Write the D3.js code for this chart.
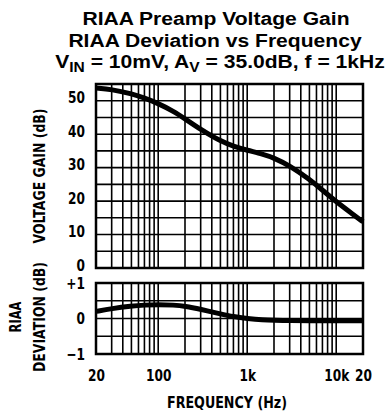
<!DOCTYPE html>
<html lang="en">
<head>
<meta charset="UTF-8">
<title>RIAA Preamp</title>
<style>
  body { margin: 0; background: #fff; }
  text { fill: #000; }
  .tick text, .lab { font-family: "DejaVu Sans", sans-serif; font-weight: bold; }
  .title { font-family: "Liberation Sans", Arial, sans-serif; font-weight: bold; font-size: 19px; }
</style>
</head>
<body>
<script src="https://cdn.jsdelivr.net/npm/d3@7"></script>
<script>
// data
const freq = [20, 30, 50, 70, 100, 150, 200, 300, 500, 700, 1000, 1500, 2000, 3000, 5000, 7000, 10000, 15000, 20000]
const gain = [53.8, 53.4, 52.1, 50.8, 49.2, 46.8, 44.6, 41.4, 37.9, 36.4, 35.2, 34.0, 32.9, 30.6, 26.5, 23.3, 19.8, 16.3, 13.8]
const devFreq = [20, 30, 50, 70, 100, 150, 200, 300, 500, 700, 1000, 1500, 2000, 3000, 5000, 10000, 20000]
const deviation = [0.2, 0.28, 0.35, 0.38, 0.39, 0.38, 0.35, 0.26, 0.13, 0.05, 0.0, -0.04, -0.05, -0.06, -0.06, -0.06, -0.06]
const xTicks = [20, 100, 1000, 10000, 20000]
const xTickLabels = ["20", "100", "1k", "10k", "20"]
const gainTicks = [0, 10, 20, 30, 40, 50]
const devTicks = [-1, 0, 1]
const devTickLabels = ["\u22121", "0", "+1"]

const width = 386, height = 414
const svg = d3.select("body").append("svg")
  .attr("width", width)
  .attr("height", height)

const x = d3.scaleLog().domain([20, 20000]).range([96, 363])
const yTop = d3.scaleLinear().domain([0, 55]).range([268, 84])
const yBot = d3.scaleLinear().domain([-1, 1]).range([354, 283])

// squeeze text horizontally (no condensed font installed)
function narrow(sel, k) {
  sel.each(function() {
    const w = this.getComputedTextLength()
    d3.select(this).attr("textLength", w * k).attr("lengthAdjust", "spacingAndGlyphs")
  })
}

// minor log grid positions
const gridX = []
for (let d = 10; d <= 10000; d *= 10) {
  for (let m = 1; m <= 9; m++) {
    const v = d * m
    if (v > 20 && v < 20000) gridX.push(v)
  }
}

function panel(y, hGrid) {
  const g = svg.append("g")
  g.selectAll(".vg").data(gridX).enter().append("line")
    .attr("x1", d => x(d)).attr("x2", d => x(d))
    .attr("y1", y.range()[1]).attr("y2", y.range()[0])
    .attr("stroke", "#000").attr("stroke-width", 1.6)
  g.selectAll(".hg").data(hGrid).enter().append("line")
    .attr("x1", x.range()[0]).attr("x2", x.range()[1])
    .attr("y1", d => y(d)).attr("y2", d => y(d))
    .attr("stroke", "#000").attr("stroke-width", 1.6)
  g.append("rect")
    .attr("x", x.range()[0]).attr("y", y.range()[1])
    .attr("width", x.range()[1] - x.range()[0])
    .attr("height", y.range()[0] - y.range()[1])
    .attr("fill", "none").attr("stroke", "#000").attr("stroke-width", 2.5)
  return g
}

panel(yTop, d3.range(5, 55, 5))
panel(yBot, [-0.5, 0, 0.5])

// curves
svg.append("path")
  .datum(freq.map((f, i) => [f, gain[i]]))
  .attr("fill", "none").attr("stroke", "#000").attr("stroke-width", 5)
  .attr("d", d3.line().x(d => x(d[0])).y(d => yTop(d[1])).curve(d3.curveBasis))

svg.append("path")
  .datum(devFreq.map((f, i) => [f, deviation[i]]))
  .attr("fill", "none").attr("stroke", "#000").attr("stroke-width", 5)
  .attr("d", d3.line().x(d => x(d[0])).y(d => yBot(d[1])).curve(d3.curveBasis))

// axes (labels only)
svg.append("g").attr("transform", "translate(85,-3)")
  .call(d3.axisLeft(yTop).tickValues(gainTicks).tickSize(0).tickPadding(0))
svg.append("g").attr("transform", "translate(85,0)")
  .call(d3.axisLeft(yBot).tickValues(devTicks).tickSize(0).tickPadding(0)
    .tickFormat((d, i) => devTickLabels[i]))
svg.append("g").attr("transform", "translate(0,366)")
  .call(d3.axisBottom(x).tickValues(xTicks).tickSize(0).tickPadding(4)
    .tickFormat((d, i) => xTickLabels[i]))
svg.selectAll(".domain").remove()
svg.selectAll(".tick text").attr("font-size", 16).attr("font-family", null)
narrow(svg.selectAll(".tick text"), 0.76)

// axis titles
function label(t, tr, len) {
  svg.append("text").attr("class", "lab")
    .attr("transform", tr)
    .attr("text-anchor", "middle").attr("font-size", 16)
    .attr("textLength", len).attr("lengthAdjust", "spacingAndGlyphs")
    .text(t)
}
label("VOLTAGE GAIN (dB)", "translate(45,176) rotate(-90)", 135)
label("RIAA", "translate(21,317) rotate(-90)", 31)
label("DEVIATION (dB)", "translate(45,317) rotate(-90)", 110)
label("FREQUENCY (Hz)", "translate(227,408)", 120)

// title (slightly widened, like the original typeface)
function titleLine(cx, cy) {
  return svg.append("g").attr("transform", `translate(${cx},${cy}) scale(1.11,1)`)
    .append("text").attr("class", "title").attr("text-anchor", "middle")
}
titleLine(216, 25).text("RIAA Preamp Voltage Gain")
titleLine(215, 46.5).text("RIAA Deviation vs Frequency")
const t3 = titleLine(220, 68)
t3.append("tspan").text("V")
t3.append("tspan").attr("font-size", 14).attr("dy", 4).text("IN")
t3.append("tspan").attr("dy", -4).text(" = 10mV, A")
t3.append("tspan").attr("font-size", 14).attr("dy", 4).text("V")
t3.append("tspan").attr("dy", -4).text(" = 35.0dB, f = 1kHz")
</script>
</body>
</html>
